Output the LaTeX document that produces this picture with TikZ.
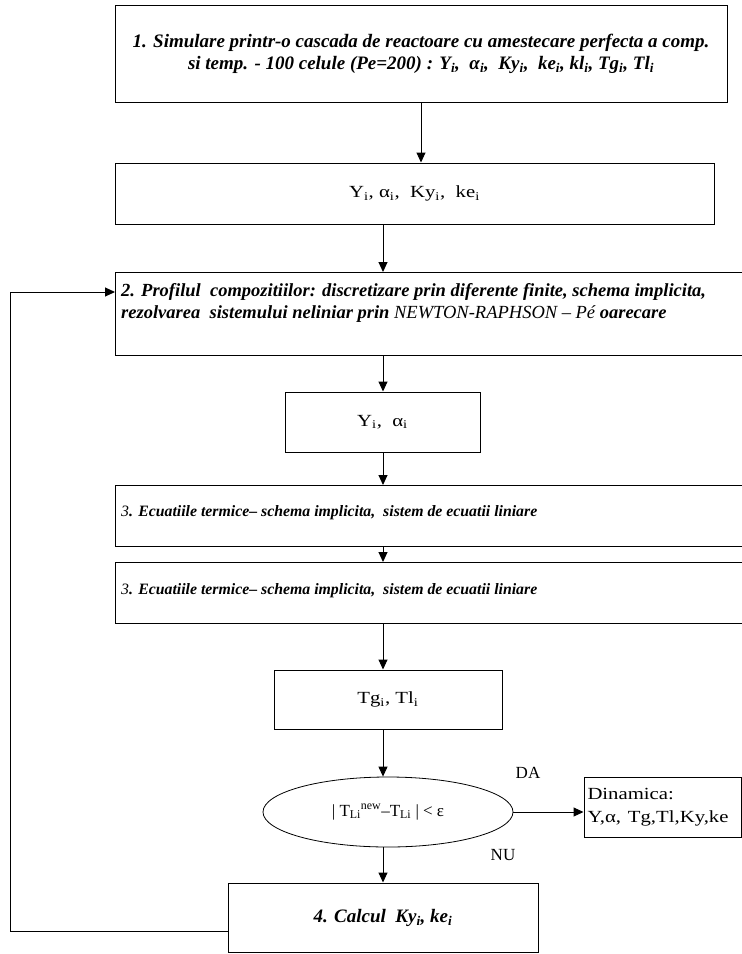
\documentclass[tikz,border=0pt]{standalone}
\usepackage{graphicx}
\usepackage{fontspec}
\setmainfont{Liberation Serif}
\usetikzlibrary{shapes.geometric,arrows.meta,calc}
\newcommand\wx[1]{\scalebox{1.22}[1]{#1}}
\begin{document}
\begin{tikzpicture}[x=1pt,y=-1pt,
 box/.style={draw,line width=1pt,inner sep=0pt},
 arr/.style={line width=1pt,-{Triangle[length=10pt,width=9pt]}},
 bione/.style={font=\fontsize{19}{22}\selectfont\bfseries\itshape},
 bitwo/.style={font=\fontsize{18.5}{22}\selectfont\bfseries\itshape},
 bithree/.style={font=\fontsize{15.8}{20}\selectfont\bfseries\itshape},
 rm/.style={font=\fontsize{17}{23}\selectfont}]
\useasboundingbox (0,0) rectangle (742,954);
\coordinate (col) at (383,0);
% boxes
\node[box,bione,minimum width=612pt,minimum height=97pt,align=center] (b1) at (421,53.5)
 {1. Simulare printr-o cascada de reactoare cu amestecare perfecta a comp.\\
  si temp. - 100 celule (Pe=200) : Y\textsubscript{i},\ \ α\textsubscript{i},\ \ Ky\textsubscript{i},\ \ ke\textsubscript{i}, kl\textsubscript{i}, Tg\textsubscript{i}, Tl\textsubscript{i}};
\node[box,rm,minimum width=599pt,minimum height=61pt] (bY) at (414.5,193.5)
 {\wx{Y\textsubscript{i},\ α\textsubscript{i},\ \ Ky\textsubscript{i},\ \ ke\textsubscript{i}}};
\node[box,minimum width=640pt,minimum height=83pt,anchor=north west] (b2) at (115,272) {};
\node[bitwo,anchor=west,align=left,inner sep=0pt] (t2) at (121,303)
 {2. Profilul\ \ compozitiilor: discretizare prin diferente finite, schema implicita,\\
  rezolvarea\ \ sistemului neliniar prin \mdseries NEWTON-RAPHSON – Pé \bfseries oarecare};
\node[box,rm,minimum width=195pt,minimum height=60pt] (bYa) at (382.5,422)
 {\wx{Y\textsubscript{i},\ \ α\textsubscript{i}}};
\node[box,minimum width=640pt,minimum height=61pt,anchor=north west] (b3a) at (115,485) {};
\node[bithree,anchor=west,inner sep=0pt] (t3a) at (121,513)
 {\mdseries 3\bfseries. Ecuatiile termice– schema implicita,\ \ sistem de ecuatii liniare};
\node[box,minimum width=640pt,minimum height=61pt,anchor=north west] (b3b) at (115,562) {};
\node[bithree,anchor=west,inner sep=0pt] (t3b) at (121,591)
 {\mdseries 3\bfseries. Ecuatiile termice– schema implicita,\ \ sistem de ecuatii liniare};
\node[box,rm,minimum width=228pt,minimum height=59pt] (bT) at (388,699.5)
 {\wx{Tg\textsubscript{i}, Tl\textsubscript{i}}};
\node[draw,line width=0.8pt,ellipse,rm,minimum width=250pt,minimum height=70pt,inner sep=0pt] (e) at (388,812)
 {| T\textsubscript{Li}\textsuperscript{new}–T\textsubscript{Li} | < ε};
\node[box,rm,minimum width=157pt,minimum height=60pt,align=left,text width=150pt] (dyn) at (662.5,807)
 {\wx{Dinamica:}\\ \wx{Y,α, Tg,Tl,Ky,ke}};
\node[box,bione,minimum width=310pt,minimum height=69pt] (b4) at (383,917.5)
 {4. Calcul\ \ Ky\textsubscript{i}, ke\textsubscript{i}};
\node[rm,inner sep=0pt] (da) at (528,773) {DA};
\node[rm,inner sep=0pt] (nu) at (503,855) {NU};
% connectors
\draw[arr] (b1.south) -- (b1.south |- bY.north);
\draw[arr] (bY.south -| col) -- (b2.north -| col);
\draw[arr] (b2.south -| col) -- (bYa.north -| col);
\draw[arr] (bYa.south -| col) -- (b3a.north -| col);
\draw[arr] (b3a.south -| col) -- (b3b.north -| col);
\draw[arr] (b3b.south -| col) -- (bT.north -| col);
\draw[arr] (bT.south -| col) -- (e.north -| col);
\draw[arr] (e.east) -- (dyn.west |- e.east);
\draw[arr] (e.south -| col) -- (b4.north -| col);
\coordinate (c1) at (10,931);
\coordinate (c2) at (10,292);
\draw[arr] (b4.west |- c1) -- (c1) -- (c2) -- (b2.west |- c2);
\end{tikzpicture}
\end{document}
